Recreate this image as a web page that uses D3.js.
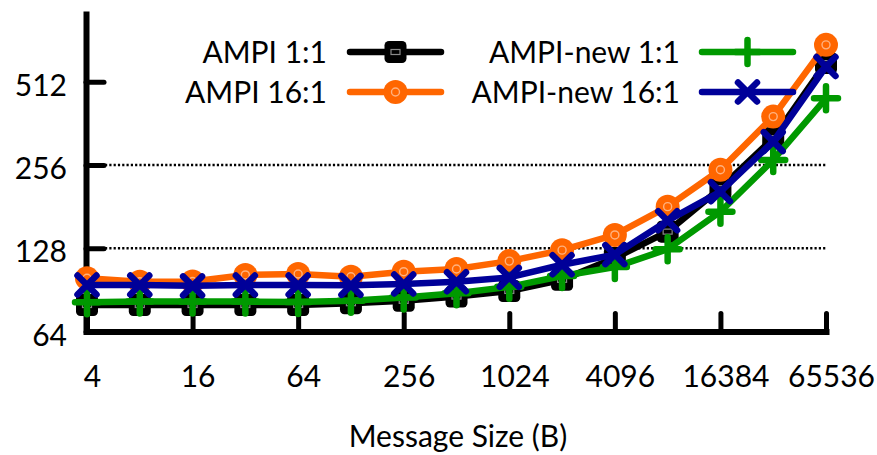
<!DOCTYPE html>
<html>
<head>
<meta charset="utf-8">
<script src="https://cdn.jsdelivr.net/npm/d3@7"></script>
<style>
  html, body { margin: 0; padding: 0; background: #fff; }
  svg { display: block; }
  text { font-family: Lato, "Open Sans", sans-serif; fill: #000; }
</style>
</head>
<body>
<svg id="chart" width="877" height="455"></svg>
<script>
// Message sizes (bytes) and latency for each configuration
const sizes = [4, 8, 16, 32, 64, 128, 256, 512, 1024, 2048, 4096, 8192, 16384, 32768, 65536];
const ampi11 = [79.8, 79.8, 79.8, 79.8, 79.8, 81, 82.6, 85.6, 89.7, 98.4, 118, 147, 211, 320, 598];
const ampi161 = [99.7, 96.9, 97, 102.5, 103.3, 101, 105.3, 107.7, 115, 126, 143, 181, 246, 383, 696];
const ampiNew11 = [81.6, 82.1, 82.1, 82.1, 81.9, 82.6, 85, 88, 92.8, 101.6, 109.4, 127, 173.5, 267, 446];
const ampiNew161 = [94.3, 94.3, 93.6, 94.3, 94.3, 94, 95, 96.8, 100.4, 111.6, 121.4, 161, 205, 311, 581];

const xTicks = [4, 16, 64, 256, 1024, 4096, 16384, 65536];
const yTicks = [64, 128, 256, 512];
const gridTicks = [128, 256];

const seriesNames = ["AMPI 1:1", "AMPI 16:1", "AMPI-new 1:1", "AMPI-new 16:1"];
const seriesColors = ["#000000", "#ff6600", "#009900", "#000099"];
const seriesMarkers = ["square", "circle", "plus", "cross"];
const seriesValues = [ampi11, ampi161, ampiNew11, ampiNew161];

const svg = d3.select("#chart");

const x = d3.scaleLog().base(2).domain([4, 65536]).range([87, 826]);
const y = d3.scaleLog().base(2).domain([64, 900]).range([331.5, 14]);

// dotted horizontal grid
svg.append("g")
  .selectAll("line")
  .data(gridTicks)
  .join("line")
  .attr("x1", x(4) + 18)
  .attr("x2", x(65536))
  .attr("y1", d => y(d))
  .attr("y2", d => y(d))
  .attr("stroke", "#000")
  .attr("stroke-width", 2.6)
  .attr("stroke-dasharray", "2.2,2.1");

// axes
const yAxis = d3.axisLeft(y)
  .tickValues(yTicks)
  .tickFormat(d3.format("d"))
  .tickSizeInner(-18)
  .tickSizeOuter(0)
  .tickPadding(19);

const xAxis = d3.axisBottom(x)
  .tickValues(xTicks)
  .tickFormat(d3.format("d"))
  .tickSizeInner(-18)
  .tickSizeOuter(0)
  .tickPadding(34);

const gx = svg.append("g")
  .attr("transform", `translate(0,${y(64)})`)
  .call(xAxis);

const gy = svg.append("g")
  .attr("transform", `translate(${x(4) - 1},0)`)
  .call(yAxis);

[gx, gy].forEach(g => {
  g.select(".domain").attr("stroke", "#000").attr("stroke-width", 6).attr("stroke-linecap", "square");
  g.selectAll(".tick line").attr("stroke", "#000").attr("stroke-width", 5).attr("stroke-linecap", "round");
  g.selectAll(".tick text")
    .attr("font-family", "Lato, 'Open Sans', sans-serif")
    .attr("font-size", 30)
    .attr("fill", "#000");
});
gy.selectAll(".tick text").attr("dy", "0.45em");
gx.selectAll(".tick text").attr("dx", 5);

// axis title
svg.append("text")
  .attr("x", 458)
  .attr("y", 447)
  .attr("text-anchor", "middle")
  .attr("font-size", 30)
  .text("Message Size (B)");

// marker drawing
function drawMarker(g, type, color) {
  if (type === "square") {
    g.append("rect").attr("x", -11).attr("y", -11).attr("width", 22).attr("height", 22)
      .attr("rx", 4.5).attr("fill", color);
    g.append("rect").attr("x", -4.5).attr("y", -2.5).attr("width", 9).attr("height", 5)
      .attr("fill", "none").attr("stroke", "#8a8a8a").attr("stroke-width", 1.2);
  } else if (type === "circle") {
    g.append("circle").attr("r", 12).attr("fill", color);
    g.append("circle").attr("r", 4).attr("fill", "none")
      .attr("stroke", "#ffb27f").attr("stroke-width", 1.4);
  } else if (type === "plus") {
    g.append("path").attr("d", "M-12,0H12M0,-12V12")
      .attr("stroke", color).attr("stroke-width", 6.5).attr("stroke-linecap", "round");
  } else if (type === "cross") {
    g.append("path").attr("d", "M-9.5,-9.5L9.5,9.5M-9.5,9.5L9.5,-9.5")
      .attr("stroke", color).attr("stroke-width", 6.5).attr("stroke-linecap", "round");
  }
}

const line = d3.line()
  .x(d => x(d[0]))
  .y(d => y(d[1]));

seriesValues.forEach((vals, i) => {
  const pts = sizes.map((s, j) => [s, vals[j]]);
  const g = svg.append("g");
  g.append("path")
    .datum(pts)
    .attr("d", line)
    .attr("fill", "none")
    .attr("stroke", seriesColors[i])
    .attr("stroke-width", 6.5)
    .attr("stroke-linejoin", "round")
    .attr("stroke-linecap", "round");
  pts.forEach(p => {
    const m = g.append("g").attr("transform", `translate(${x(p[0])},${y(p[1])})`);
    drawMarker(m, seriesMarkers[i], seriesColors[i]);
  });
});

// legend: two columns, two rows
const legendCols = [
  { textRight: 327, x1: 350, x2: 441 },
  { textRight: 680, x1: 702, x2: 793 }
];
const legendRows = [52, 92];
const legendOrder = [
  { s: 0, col: 0, row: 0 },
  { s: 1, col: 0, row: 1 },
  { s: 2, col: 1, row: 0 },
  { s: 3, col: 1, row: 1 }
];
const lg = svg.append("g");
legendOrder.forEach(o => {
  const c = legendCols[o.col];
  const ry = legendRows[o.row];
  lg.append("text")
    .attr("x", c.textRight)
    .attr("y", ry + 11)
    .attr("text-anchor", "end")
    .attr("font-size", 30)
    .text(seriesNames[o.s]);
  lg.append("line")
    .attr("x1", c.x1).attr("x2", c.x2)
    .attr("y1", ry).attr("y2", ry)
    .attr("stroke", seriesColors[o.s])
    .attr("stroke-width", 6.5)
    .attr("stroke-linecap", "round");
  const m = lg.append("g").attr("transform", `translate(${(c.x1 + c.x2) / 2},${ry})`);
  drawMarker(m, seriesMarkers[o.s], seriesColors[o.s]);
});
</script>
</body>
</html>
